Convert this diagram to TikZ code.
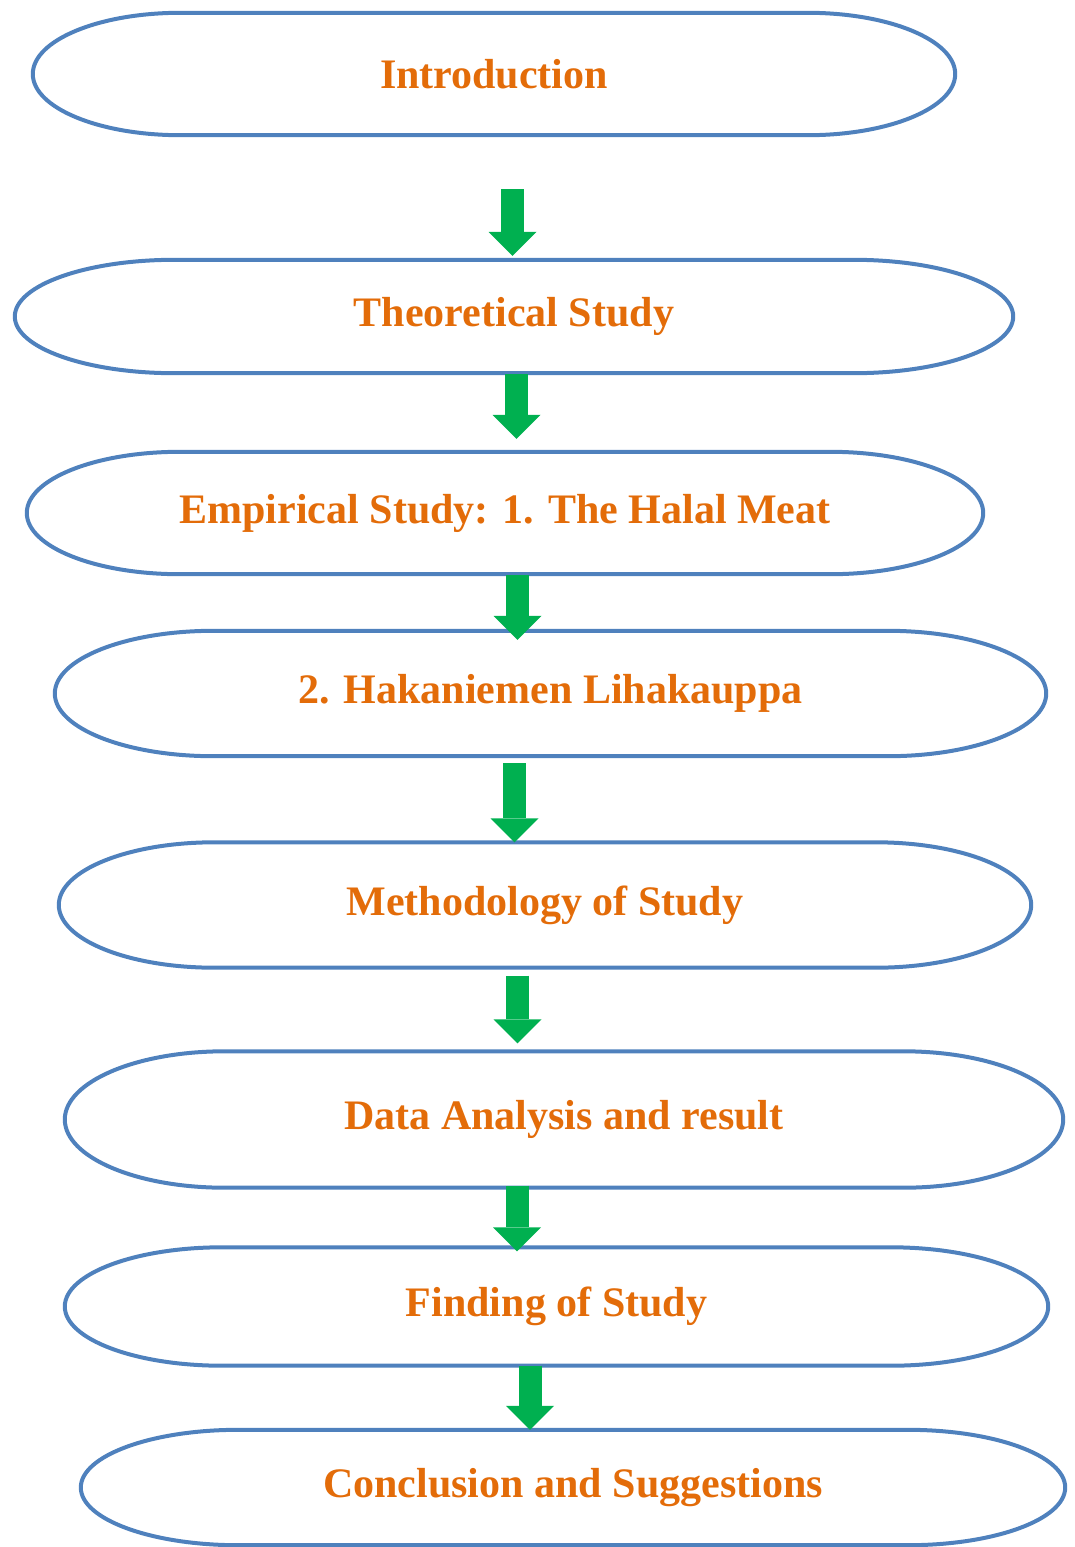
\documentclass[tikz,border=0pt]{standalone}
\usepackage{fontspec}
\setmainfont{Liberation Serif}
\usetikzlibrary{calc, arrows.meta}
\definecolor{pillblue}{RGB}{79,129,189}
\definecolor{stageorange}{RGB}{227,108,9}
\definecolor{flowgreen}{RGB}{0,176,80}
\tikzset{stage/.style={text=stageorange, font=\fontsize{42}{48}\selectfont\bfseries, inner sep=0pt}}
\tikzset{pill/.style={draw=pillblue, line width=4pt}}
\tikzset{flow/.style={draw=flowgreen, line width=23pt, -{Triangle[width=48pt, length=24pt, line width=0pt, fill=flowgreen]}}}

\begin{document}
\begin{tikzpicture}[x=1pt, y=1pt]
	\useasboundingbox (0,0) rectangle (1075,-1547);
	% the stages, top to bottom
	\node[stage, minimum width=922pt, minimum height=122pt] (intro) at (494,-74) {Introduction};
	\node[stage, minimum width=998pt, minimum height=113pt] (theory) at (514,-316.5) {Theoretical Study};
	\node[stage, minimum width=956pt, minimum height=122pt] (empirical) at (505,-513) {Empirical Study: 1. The Halal Meat};
	\node[stage, minimum width=991pt, minimum height=125pt] (hakan) at (550.5,-693.5) {2. Hakaniemen Lihakauppa};
	\node[stage, minimum width=972pt, minimum height=125pt] (method) at (545,-905) {Methodology of Study};
	\node[stage, minimum width=998pt, minimum height=136pt] (data) at (564,-1119.5) {Data Analysis and result};
	\node[stage, minimum width=983pt, minimum height=118pt] (finding) at (556.5,-1306.5) {Finding of Study};
	\node[stage, minimum width=984pt, minimum height=115pt] (concl) at (573,-1487.5) {Conclusion and Suggestions};
	% outline with half-ellipse ends
	\foreach \s in {intro,theory,empirical,hakan,method,data,finding,concl}
		\draw[pill] let \p1=(\s.north west), \p2=(\s.south east), \n1={0.16*(\x2-\x1)}, \n2={(\y1-\y2)/2} in
			(\x1+\n1,\y1) -- (\x2-\n1,\y1) arc[start angle=90, end angle=-90, x radius=\n1, y radius=\n2]
			-- (\x1+\n1,\y2) arc[start angle=270, end angle=90, x radius=\n1, y radius=\n2] -- cycle;
	% block arrows between stages
	\foreach \a/\b/\xa/\u/\v in {intro/theory/512.5/-54/4, theory/empirical/516.5/-1/13,
			empirical/hakan/517.5/-1/-9, hakan/method/514.5/-7/0, method/data/517.5/-8/8,
			data/finding/517/2/-4, finding/concl/530/0/0}
		\draw[flow] ($(\a.south -| \xa,0)+(0,\u)$) -- ($(\b.north -| \xa,0)+(0,\v)$);
\end{tikzpicture}
\end{document}
